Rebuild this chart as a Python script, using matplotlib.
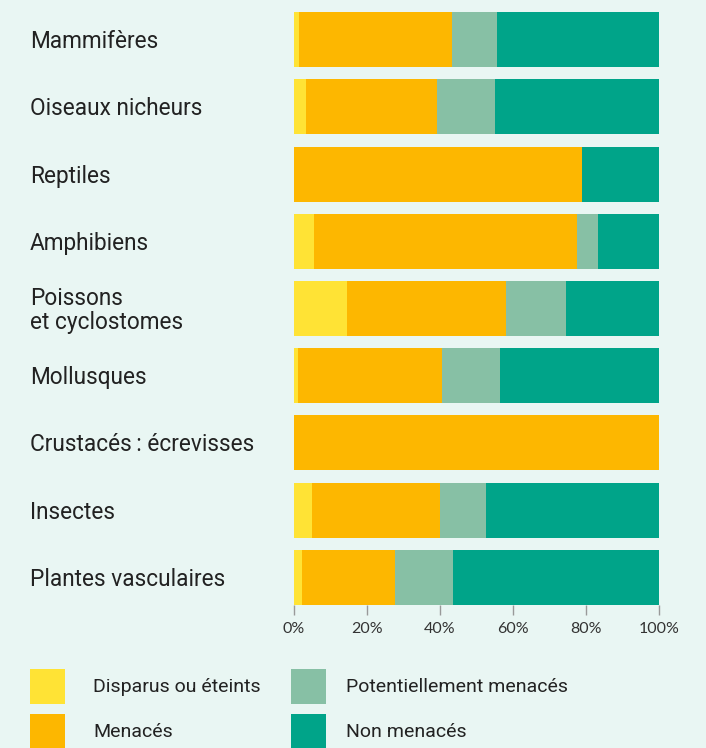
import numpy as np
import matplotlib.pyplot as plt
from matplotlib.patches import Rectangle

categories = ['Mammifères', 'Oiseaux nicheurs', 'Reptiles', 'Amphibiens',
              'Poissons\net cyclostomes', 'Mollusques', 'Crustacés\u202f: écrevisses',
              'Insectes', 'Plantes vasculaires']
disparus = [1.4, 3.3, 0.0, 5.5, 14.5, 1.1, 0.0, 4.9, 2.1]
menaces = [41.8, 35.9, 78.9, 72.0, 43.6, 39.4, 100.0, 35.2, 25.6]
potentiel = [12.4, 15.9, 0.0, 5.8, 16.4, 15.9, 0.0, 12.6, 15.9]
non_menaces = [44.4, 44.9, 21.1, 16.7, 25.5, 43.6, 0.0, 47.3, 56.4]

series = ['Disparus ou éteints', 'Menacés', 'Potentiellement menacés', 'Non menacés']
colors = ['#FFE335', '#FDB700', '#87C0A5', '#00A489']
bg = '#E9F6F3'
txt = '#222222'

plt.rcParams['font.family'] = ['Roboto', 'DejaVu Sans']

fig = plt.figure(figsize=(7.06, 7.48), dpi=100, facecolor=bg)
ax = fig.add_axes([294 / 706, 1 - 605 / 748, 365 / 706, 593 / 748])
ax.set_facecolor(bg)

y = np.arange(len(categories))
left = np.zeros(len(categories))
for vals, col in zip([disparus, menaces, potentiel, non_menaces], colors):
    vals = np.array(vals)
    ax.barh(y, vals, left=left, height=0.818, color=col, linewidth=0)
    left += vals

ax.set_xlim(0, 100)
ax.set_ylim(8.41, -0.41)
ax.set_yticks([])
ax.set_xticks([0, 20, 40, 60, 80, 100])
ax.set_xticklabels(['0%', '20%', '40%', '60%', '80%', '100%'],
                   fontsize=11.5, color='#333333', family=['Lato', 'DejaVu Sans'])
ax.tick_params(axis='x', length=7, width=1, color='#999999', pad=5)
for s in ax.spines.values():
    s.set_visible(False)

# category labels on the left
for i, name in enumerate(categories):
    ax.text(-264 / 365 * 100, i + 0.03, name, ha='left', va='center', fontsize=16.3,
            color=txt, linespacing=1.1)

# legend drawn by hand
leg = [(30, 669, 93), (30, 714, 93), (291, 669, 346), (291, 714, 346)]
for (x0, y0, tx), name, col in zip(leg, series, colors):
    fig.patches.append(Rectangle((x0 / 706, 1 - (y0 + 35) / 748), 35 / 706, 35 / 748,
                                 transform=fig.transFigure, color=col, lw=0))
    fig.text(tx / 706, 1 - (y0 + 18) / 748, name, ha='left', va='center',
             fontsize=14, color=txt)

fig.savefig('out.png', dpi=100, facecolor=bg)
